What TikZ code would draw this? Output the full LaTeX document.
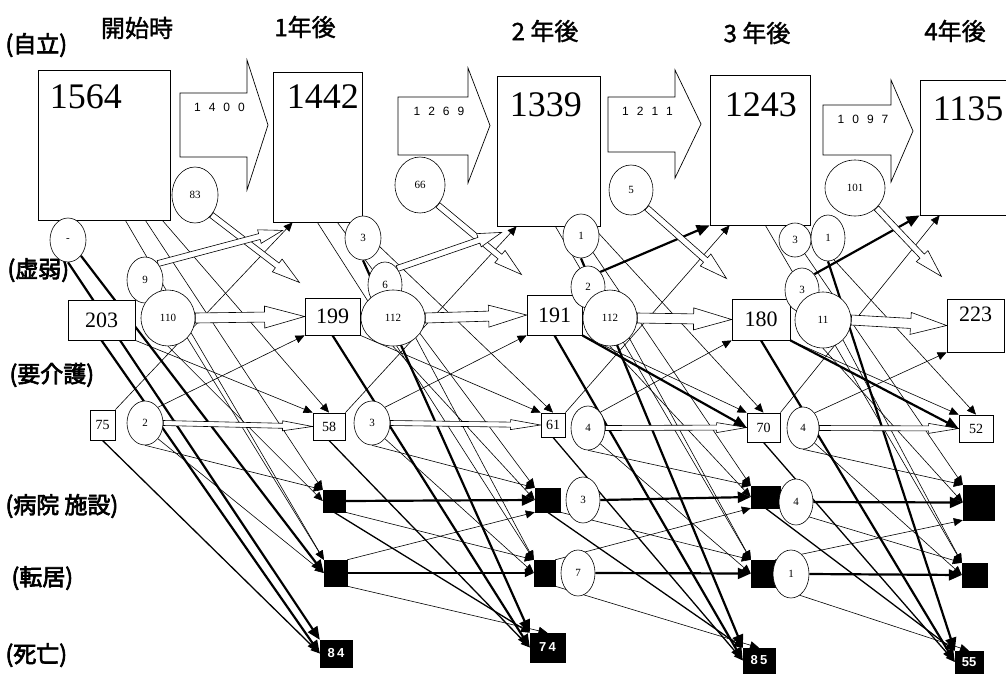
\documentclass[tikz,border=0pt]{standalone}
\usepackage{fontspec}
\setmainfont{Liberation Serif}
\setsansfont{Liberation Sans}
\newfontfamily\jp[FakeBold=1.5]{Noto Sans CJK JP}
\newfontfamily\jpb[FakeBold=3]{Noto Sans CJK JP}
\usetikzlibrary{shapes.geometric,arrows.meta,calc,backgrounds}

\tikzset{
  sbox/.style={draw, line width=0.8pt, fill=white, rectangle, inner sep=0pt},
  frbox/.style={draw, line width=0.8pt, fill=white, inner sep=0pt, font=\fontsize{22}{22}\selectfont},
  cabox/.style={draw, line width=0.8pt, fill=white, inner sep=1pt, font=\fontsize{14}{14}\selectfont},
  kbox/.style={draw, fill=black, inner sep=0pt},
  dbox/.style={kbox, text=white, font=\sffamily\bfseries\fontsize{13}{13}\selectfont},
  oval/.style={ellipse, draw, line width=0.6pt, fill=white, inner sep=0pt, font=\fontsize{11}{11}\selectfont},
  ln/.style={line width=0.6pt},
  mid/.style={line width=1.3pt},
  thk/.style={line width=2.2pt},
  arr/.style={-{Triangle[length=9pt,width=8pt]}},
  bigarr/.style={-{Triangle[length=13pt,width=11pt]}},
  hollowarr/.style={draw, line width=0.6pt, fill=white},
  bigarrow/.style={draw, line width=0.7pt, fill=white},
  hdr/.style={font=\jp\fontsize{24}{24}\selectfont},
  rowlab/.style={font=\jpb\fontsize{23}{23}\selectfont, anchor=west},
  snum/.style={font=\fontsize{36}{36}\selectfont, inner sep=0pt, anchor=north west},
  flowlab/.style={font=\sffamily\fontsize{12}{12}\selectfont}
}

% open arrow outline from #1 to #2: half shaft #3, half head #4, head length #5
\newcommand\hollowarrow[5]{%
  \path let \p1=(#1), \p2=(#2), \n1={atan2(\y2-\y1,\x2-\x1)},
            \n2={veclen(\x2-\x1,\y2-\y1)} in \pgfextra{\xdef\hwAng{\n1}\xdef\hwLen{\n2}};
  \begin{scope}[shift={(#1)}, rotate=\hwAng]
    \draw[hollowarr] (0pt,-#3pt) -- (\hwLen-#5pt,-#3pt) -- (\hwLen-#5pt,-#4pt)
      -- (\hwLen,0pt) -- (\hwLen-#5pt,#4pt) -- (\hwLen-#5pt,#3pt) -- (0pt,#3pt) -- cycle;
  \end{scope}}

% wide yearly flow arrow with its count
\newcommand\blockarrow[9]{%
  \draw[bigarrow] (#2,#3) -- (#5,#3) -- (#5,#6) -- (#8,{(#6+#7)/2}) -- (#5,#7)
      -- (#5,#4) -- (#2,#4) -- cycle;
  \node[flowlab] (#1) at ({(#2+#5)/2+6},{#3+14}) {#9};}

\newcommand\gapsp{\hspace{8pt}}

\begin{document}
\begin{tikzpicture}[x=1pt,y=-1pt]
\useasboundingbox (0,0) rectangle (1006,675);

% column headings
\node[hdr] (h0) at (137,28) {開始時};
\node[hdr] (h1) at (305,27) {1年後};
\node[hdr] (h2) at (545,31) {2 年後};
\node[hdr] (h3) at (757,33) {3 年後};
\node[hdr] (h4) at (955,31) {4年後};

% row headings
\node[rowlab] (r0) at (2,45) {(自立)};
\node[rowlab] (r1) at (4,270) {(虚弱)};
\node[rowlab] (r2) at (6,375) {(要介護)};
\node[rowlab] (r3) at (2,506) {(病院\ 施設)};
\node[rowlab] (r4) at (8,578) {(転居)};
\node[rowlab] (r5) at (2,655) {(死亡)};

% independent
\node[sbox, minimum width=132pt, minimum height=150pt] (S0) at (104,145) {};
\node[sbox, minimum width=89pt,  minimum height=150pt] (S1) at (317.5,147) {};
\node[sbox, minimum width=103pt, minimum height=150pt] (S2) at (548.5,151) {};
\node[sbox, minimum width=100pt, minimum height=150pt] (S3) at (760,150) {};
\node[sbox, minimum width=95pt,  minimum height=135pt] (S4) at (967.5,147.5) {};
\node[snum] (n0) at ([shift={(12,15)}]S0.north west) {1564};
\node[snum] (n1) at ([shift={(14,13)}]S1.north west) {1442};
\node[snum] (n2) at ([shift={(13,17)}]S2.north west) {1339};
\node[snum] (n3) at ([shift={(15,18)}]S3.north west) {1243};
\node[snum] (n4) at ([shift={(13,17)}]S4.north west) {1135};

% frail
\node[frbox, minimum width=67pt, minimum height=40pt] (F0) at (101.5,320) {203};
\node[frbox, minimum width=55pt, minimum height=37pt] (F1) at (332.5,316.5) {199};
\node[frbox, minimum width=55pt, minimum height=40pt] (F2) at (554.5,315) {191};
\node[frbox, minimum width=58pt, minimum height=41pt] (F3) at (761,319.5) {180};
\node[frbox, minimum width=57pt, minimum height=53pt, text depth=22pt] (F4) at (975.5,325.5) {223};

% care needed
\node[cabox, minimum width=25pt, minimum height=30pt] (C0) at (102.5,425) {75};
\node[cabox, minimum width=32pt, minimum height=27pt] (C1) at (329,426.5) {58};
\node[cabox, minimum width=24pt, minimum height=24pt] (C2) at (553,425) {61};
\node[cabox, minimum width=33pt, minimum height=29pt] (C3) at (763.5,427.5) {70};
\node[cabox, minimum width=34pt, minimum height=27pt] (C4) at (976,428.5) {52};

% hospital / facility
\node[kbox, minimum width=22pt, minimum height=22pt] (H1) at (334,501) {};
\node[kbox, minimum width=25pt, minimum height=24pt] (H2) at (547.5,500) {};
\node[kbox, minimum width=29pt, minimum height=22pt] (H3) at (765.5,497) {};
\node[kbox, minimum width=31pt, minimum height=35pt] (H4) at (978.5,502.5) {};

% moved away
\node[kbox, minimum width=23pt, minimum height=26pt] (M1) at (335.5,573) {};
\node[kbox, minimum width=21pt, minimum height=26pt] (M2) at (544.5,573) {};
\node[kbox, minimum width=24pt, minimum height=27pt] (M3) at (763,573.5) {};
\node[kbox, minimum width=25pt, minimum height=24pt] (M4) at (974.5,575) {};

% deceased
\node[dbox, minimum width=32pt, minimum height=27pt] (D1) at (336,653.5) {8\,4};
\node[dbox, minimum width=35pt, minimum height=29pt] (D2) at (547.5,647.5) {7\,4};
\node[dbox, minimum width=32pt, minimum height=25pt] (D3) at (759,660.5) {8\,5};
\node[dbox, minimum width=28pt, minimum height=22pt] (D4) at (969,662) {55};

% transition counts
\node[oval, minimum width=36pt, minimum height=44pt] (eS0) at (68,240) {-};
\node[oval, minimum width=46pt, minimum height=56pt] (ea0) at (195,195) {83};
\node[oval, minimum width=36pt, minimum height=46pt] (eFa0) at (145,280) {9};
\node[oval, minimum width=54pt, minimum height=56pt] (eFb0) at (168,318) {110};
\node[oval, minimum width=36pt, minimum height=44pt] (eC0) at (145,423) {2};

\node[oval, minimum width=36pt, minimum height=44pt] (eS1) at (363,238) {3};
\node[oval, minimum width=50pt, minimum height=56pt] (ea1) at (420,185) {66};
\node[oval, minimum width=34pt, minimum height=46pt] (eFa1) at (385,285) {6};
\node[oval, minimum width=64pt, minimum height=56pt] (eFb1) at (393,318) {112};
\node[oval, minimum width=36pt, minimum height=44pt] (eC1) at (372,423) {3};

\node[oval, minimum width=36pt, minimum height=44pt] (eS2) at (581,236) {1};
\node[oval, minimum width=44pt, minimum height=50pt] (ea2) at (631,190) {5};
\node[oval, minimum width=34pt, minimum height=42pt] (eFa2) at (588,287) {2};
\node[oval, minimum width=54pt, minimum height=56pt] (eFb2) at (610,318) {112};
\node[oval, minimum width=34pt, minimum height=44pt] (eC2) at (588,428) {4};
\node[oval, minimum width=34pt, minimum height=46pt] (eH2) at (583,500) {3};
\node[oval, minimum width=34pt, minimum height=46pt] (eM2) at (578,573) {7};

\node[oval, minimum width=32pt, minimum height=34pt] (eT3) at (795,240) {3};
\node[oval, minimum width=34pt, minimum height=46pt] (eS3) at (828,238) {1};
\node[oval, minimum width=60pt, minimum height=56pt] (ea3) at (855,188) {101};
\node[oval, minimum width=34pt, minimum height=44pt] (eFa3) at (802,290) {3};
\node[oval, minimum width=56pt, minimum height=56pt] (eFb3) at (823,320) {11};
\node[oval, minimum width=32pt, minimum height=42pt] (eC3) at (803,428) {4};
\node[oval, minimum width=34pt, minimum height=46pt] (eH3) at (796,502) {4};
\node[oval, minimum width=36pt, minimum height=48pt] (eM3) at (791,574) {1};

% yearly flow of the independent group
\blockarrow{a0}{180}{93}{157}{247}{60}{190}{268}{1\gapsp4\gapsp0\gapsp0}
\blockarrow{a1}{398}{97}{155}{468}{68}{183}{490}{1\gapsp2\gapsp6\gapsp9}
\blockarrow{a2}{608}{97}{152}{675}{70}{178}{701}{1\gapsp2\gapsp1\gapsp1}
\blockarrow{a3}{823}{105}{155}{891}{80}{182}{913}{1\gapsp0\gapsp9\gapsp7}

\begin{pgfonlayer}{background}
  % transitions from each year to the next
  \foreach \i/\j in {0/1,1/2,2/3,3/4} {
    \draw[thk, bigarr] (eS\i.south) -- (D\j.north west);
    \draw[thk, bigarr] (F\i.south) -- (D\j.west);
    \draw[mid, arr] (C\i.south) -- (D\j.west);
    \draw[ln, arr] ([xshift=-45pt]S\i.south east) -- (M\j.north west);
    \draw[ln, arr] ([xshift=-25pt]S\i.south east) -- (H\j.north west);
    \draw[ln, arr] ([xshift=-8pt]S\i.south east) -- (C\j.north);
    \draw[ln, arr] (F\i.south east) -- (C\j.north west);
    \draw[ln, arr] (eFb\i.south) -- (H\j.west);
    \draw[ln, arr] (eFb\i.south east) -- (M\j.north west);
    \draw[ln, arr] (C\i.north east) -- ([xshift=20pt]S\j.south west);
    \draw[ln, arr] (eC\i.north east) -- (F\j.south west);
    \draw[ln, arr] (eC\i.south) -- (H\j.north west);
    \draw[ln, arr] (eC\i.south east) -- (M\j.west);
  }
  \foreach \i/\j in {1/2,2/3,3/4} {
    \draw[ln, arr] (H\i.south east) -- (M\j.north west);
    \draw[mid, arr] (H\i.south) -- (D\j.north west);
    \draw[ln, arr] (M\i.south east) -- (D\j.north);
    \draw[ln, arr] (M\i.north east) -- (H\j.south west);
  }
  \draw[thk, bigarr] (eS0.south east) -- (M1.west);

  % hospital and moved-away rows
  \draw[thk, bigarr] (H1.east) -- (H2.west);
  \draw[thk, bigarr] (eH2.east) -- (H3.west);
  \draw[thk, bigarr] (eH3.east) -- (H4.west);
  \draw[mid, arr] (M1.east) -- (M2.west);
  \draw[thk, bigarr] (eM2.east) -- (M3.west);
  \draw[thk, bigarr] (eM3.east) -- (M4.west);

  % recoveries and worsening
  \draw[thk, bigarr] (eFa2.north east) -- (S3.south west);
  \draw[thk, bigarr] (eFa3.north east) -- (S4.south west);
  \draw[thk, bigarr] (F2.south east) -- (C3.west);
  \draw[thk, bigarr] (F3.south east) -- (C4.west);

  % open arrows
  \hollowarrow{ea0.south east}{[shift={(-5,-15)}]F1.north west}{3}{8}{28}
  \hollowarrow{ea1.south east}{[shift={(-5,-20)}]F2.north west}{3}{8}{28}
  \hollowarrow{ea2.south east}{[shift={(-5,-20)}]F3.north west}{3}{8}{28}
  \hollowarrow{ea3.south east}{[shift={(-5,-22)}]F4.north west}{3}{8}{28}
  \hollowarrow{eFa0.north east}{[shift={(10,8)}]S1.south west}{3}{7}{24}
  \hollowarrow{eFa1.north east}{[shift={(5,6)}]S2.south west}{3}{7}{24}
  \hollowarrow{eFb0.east}{F1.west}{5}{11}{40}
  \hollowarrow{eFb1.east}{F2.west}{5}{11}{38}
  \hollowarrow{eFb2.east}{F3.west}{5}{11}{38}
  \hollowarrow{eFb3.east}{F4.west}{5}{11}{36}
  \hollowarrow{eC0.east}{C1.west}{2.5}{5}{30}
  \hollowarrow{eC1.east}{C2.west}{2.5}{5}{30}
  \hollowarrow{eC2.east}{C3.west}{2.5}{5}{30}
  \hollowarrow{eC3.east}{C4.west}{2.5}{5}{30}
\end{pgfonlayer}
\end{tikzpicture}
\end{document}
